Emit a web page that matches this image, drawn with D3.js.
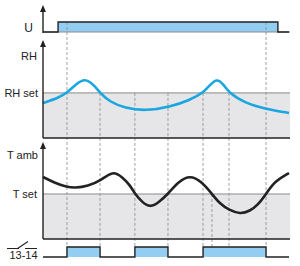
<!DOCTYPE html>
<html>
<head>
<meta charset="utf-8">
<style>
	body { margin: 0; background: #fff; }
	svg text { font-family: 'Liberation Sans Narrow', 'Liberation Sans', Arial, sans-serif; font-size: 11px; fill: #222; }
</style>
</head>
<body>
<script src="https://cdn.jsdelivr.net/npm/d3@7"></script>
<script>
	// time axis runs 0..100 (arbitrary units)
	var uTimes = [0, 6.1, 95.1, 99.6];
	var uStates = [0, 1, 0, 0];

	var rhTimes = [0, 6.1, 9.7, 13.4, 17, 20.6, 23.1, 27.1, 33.2, 41.3, 51.4, 59.5, 64.8, 67.6, 70.4, 73.3, 75.3, 81.8, 90.3, 99.6];
	var rhValues = [35.7, 40.8, 46, 55.1, 61, 54.1, 46, 36.7, 30.6, 27.6, 31.6, 38.8, 46, 54.1, 61, 54.1, 46, 35.7, 29.6, 25.5];
	var rhSet = 46;

	var tTimes = [0, 4.9, 9.7, 13, 18.2, 23.1, 28.3, 32, 35.2, 37.2, 40.1, 43.3, 46.6, 50.6, 54.7, 59.5, 64.4, 68.4, 71.7, 75.3, 79.8, 83.8, 87, 90.3, 93.9, 99.6];
	var tValues = [63.9, 57.7, 53.6, 52.6, 54.6, 59.8, 70.5, 63.9, 55.7, 46.4, 38.1, 32.5, 37.1, 46.4, 58.8, 66, 58.8, 46.4, 36.1, 29.9, 25.6, 28.9, 35.1, 46.4, 59.8, 68];
	var tSet = 46.4;

	var relayTimes = [0, 9.7, 23.1, 37.2, 50.6, 64.8, 90.3, 99.6];
	var relayStates = [0, 1, 0, 1, 0, 1, 0, 0];

	// switching instants, and the trace where each dashed guide starts
	var markerTimes = [9.7, 23.1, 37.2, 50.6, 64.8, 68.4, 75.3, 90.3];
	var markerFrom = ['U', 'RH', 'RH', 'RH', 'RH', 'T', 'RH', 'U'];

	var labels = ['U', 'RH', 'RH set', 'T amb', 'T set'];

	var width = 300, height = 266;
	var x0 = 43, x1 = 290;

	var x = d3.scaleLinear().domain([0, 100]).range([x0, x1]);
	var yU = d3.scaleLinear().domain([0, 1]).range([32, 22]);
	var yRH = d3.scaleLinear().domain([0, 100]).range([138, 40]);
	var yT = d3.scaleLinear().domain([0, 100]).range([239, 142]);
	var yRelay = d3.scaleLinear().domain([0, 1]).range([257, 247]);

	var blue = '#1aa6e0', fill = '#93cdf1', shade = '#e6e6e8';

	var svg = d3.select('body').append('svg')
		.attr('width', width)
		.attr('height', height);

	var uData = uTimes.map((t, i) => ({ t: t, v: uStates[i] }));
	var rhData = rhTimes.map((t, i) => ({ t: t, v: rhValues[i] }));
	var tData = tTimes.map((t, i) => ({ t: t, v: tValues[i] }));
	var relayData = relayTimes.map((t, i) => ({ t: t, v: relayStates[i] }));

	// shaded zones below set points
	svg.append('rect')
		.attr('x', x0).attr('y', yRH(rhSet))
		.attr('width', x1 - x0).attr('height', yRH(0) - yRH(rhSet))
		.attr('fill', shade);
	svg.append('rect')
		.attr('x', x0).attr('y', yT(tSet))
		.attr('width', x1 - x0).attr('height', yT(0) - yT(tSet))
		.attr('fill', shade);

	// blue fills of U and relay
	svg.append('path')
		.datum(uData)
		.attr('fill', fill)
		.attr('d', d3.area().curve(d3.curveStepAfter)
			.x(d => x(d.t)).y0(yU(0)).y1(d => yU(d.v)));
	svg.append('path')
		.datum(relayData)
		.attr('fill', fill)
		.attr('d', d3.area().curve(d3.curveStepAfter)
			.x(d => x(d.t)).y0(yRelay(0)).y1(d => yRelay(d.v)));

	// set point lines
	[yRH(rhSet), yT(tSet), yU(0)].forEach(function (y) {
		svg.append('line')
			.attr('x1', x0).attr('x2', x1)
			.attr('y1', y).attr('y2', y)
			.attr('stroke', '#8a8a8a').attr('stroke-width', 1);
	});

	// dashed guides
	var fromY = { U: yU(1), RH: yRH(rhSet), T: yT(tSet) };
	svg.selectAll('line.guide')
		.data(markerTimes)
		.enter().append('line')
		.attr('class', 'guide')
		.attr('x1', d => x(d)).attr('x2', d => x(d))
		.attr('y1', (d, i) => fromY[markerFrom[i]])
		.attr('y2', yRelay(1))
		.attr('stroke', '#8a8a8a')
		.attr('stroke-width', 0.8)
		.attr('stroke-dasharray', '3,2');

	// panel bottoms
	[yRH(0), yT(0)].forEach(function (y) {
		svg.append('line')
			.attr('x1', x0).attr('x2', x1)
			.attr('y1', y).attr('y2', y)
			.attr('stroke', '#222').attr('stroke-width', 1.4);
	});

	// step signals
	var step = d3.line().curve(d3.curveStepAfter).x(d => x(d.t));
	svg.append('path')
		.datum(uData)
		.attr('fill', 'none').attr('stroke', '#222').attr('stroke-width', 1.4)
		.attr('d', step.y(d => yU(d.v)));
	svg.append('path')
		.datum(relayData)
		.attr('fill', 'none').attr('stroke', '#222').attr('stroke-width', 1.4)
		.attr('d', step.y(d => yRelay(d.v)));

	// curves
	svg.append('path')
		.datum(rhData)
		.attr('fill', 'none').attr('stroke', blue).attr('stroke-width', 2.6)
		.attr('d', d3.line().curve(d3.curveBasis)
			.x(d => x(d.t)).y(d => yRH(d.v)));
	svg.append('path')
		.datum(tData)
		.attr('fill', 'none').attr('stroke', '#222').attr('stroke-width', 2.6)
		.attr('d', d3.line().curve(d3.curveBasis)
			.x(d => x(d.t)).y(d => yT(d.v)));

	// vertical axes with arrow heads
	[[yU(0) + 1, 5], [yRH(0), 40], [yT(0), 142]].forEach(function (a) {
		svg.append('line')
			.attr('x1', x0).attr('x2', x0)
			.attr('y1', a[0]).attr('y2', a[1] + 4)
			.attr('stroke', '#222').attr('stroke-width', 1.4);
		svg.append('path')
			.attr('d', 'M' + x0 + ',' + a[1] + 'l-3,7h6z')
			.attr('fill', '#222');
	});

	// labels
	var labelY = [yU(0.45), 56, yRH(rhSet), 155, yT(tSet)];
	var labelX = [33, 37, 38, 38, 37];
	svg.selectAll('text.lbl')
		.data(labels)
		.enter().append('text')
		.attr('class', 'lbl')
		.attr('x', (d, i) => labelX[i])
		.attr('y', (d, i) => labelY[i])
		.attr('dy', '0.35em')
		.attr('text-anchor', 'end')
		.style('font-size', (d, i) => i == 0 ? '12px' : '11px')
		.text(d => d);

	// contact symbol 13-14
	var sym = svg.append('g').attr('stroke', '#222').attr('stroke-width', 1.1).attr('fill', 'none');
	sym.append('path').attr('d', 'M7,248.5H19M17.5,248.5L28,241.5M25,248.5H37');
	svg.append('text')
		.attr('x', 23.5).attr('y', 258.5)
		.attr('text-anchor', 'middle')
		.text('13-14');
</script>
</body>
</html>
